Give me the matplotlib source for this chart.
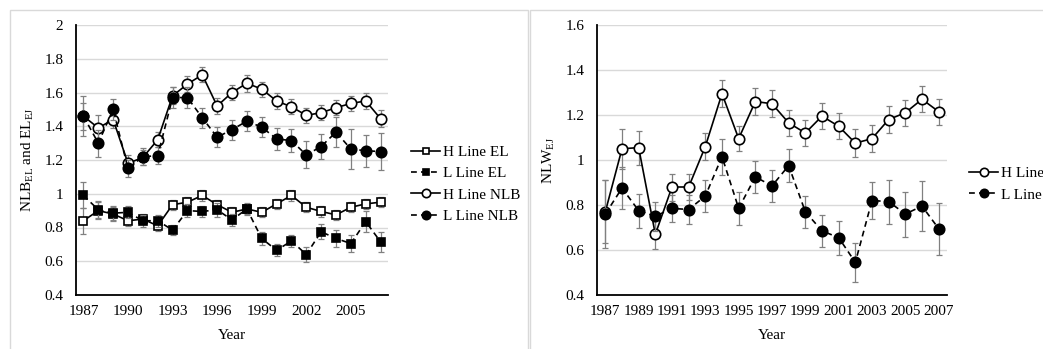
import matplotlib
matplotlib.use('Agg')
import matplotlib.pyplot as plt
from matplotlib.patches import Rectangle

plt.rcParams['font.family'] = ['Liberation Serif', 'DejaVu Serif']
plt.rcParams['mathtext.fontset'] = 'custom'
plt.rcParams['mathtext.rm'] = 'Liberation Serif'
plt.rcParams['mathtext.it'] = 'Liberation Serif:italic'

# ============= 数据 =============
years = list(range(1987, 2008))

# 左图: EL 与 NLB
h_el = [0.84, 0.90, 0.88, 0.84, 0.85, 0.81, 0.935, 0.95, 0.99, 0.935, 0.89,
        0.91, 0.89, 0.94, 0.99, 0.92, 0.895, 0.875, 0.92, 0.94, 0.95]
h_el_err = [0.077, 0.05, 0.04, 0.03, 0.03, 0.03, 0.03, 0.03, 0.03, 0.03, 0.03,
            0.03, 0.03, 0.03, 0.03, 0.03, 0.03, 0.03, 0.03, 0.03, 0.03]
l_el = [0.99, 0.905, 0.885, 0.89, 0.84, 0.84, 0.785, 0.90, 0.895, 0.905, 0.845,
        0.91, 0.735, 0.665, 0.72, 0.64, 0.775, 0.735, 0.705, 0.835, 0.715]
l_el_err = [0.077, 0.05, 0.04, 0.035, 0.035, 0.035, 0.03, 0.04, 0.035, 0.04, 0.035,
            0.035, 0.04, 0.035, 0.035, 0.045, 0.045, 0.05, 0.05, 0.06, 0.06]
h_nlb = [1.46, 1.39, 1.44, 1.18, 1.215, 1.32, 1.58, 1.65, 1.705, 1.52, 1.60,
         1.655, 1.62, 1.55, 1.515, 1.465, 1.48, 1.51, 1.535, 1.55, 1.445]
h_nlb_err = [0.08, 0.075, 0.05, 0.05, 0.045, 0.045, 0.05, 0.045, 0.045, 0.045, 0.045,
             0.05, 0.045, 0.045, 0.045, 0.045, 0.045, 0.045, 0.045, 0.045, 0.05]
l_nlb = [1.46, 1.30, 1.50, 1.15, 1.22, 1.225, 1.57, 1.57, 1.45, 1.335, 1.38,
         1.43, 1.395, 1.325, 1.315, 1.23, 1.28, 1.365, 1.265, 1.255, 1.25]
l_nlb_err = [0.12, 0.08, 0.06, 0.05, 0.05, 0.05, 0.06, 0.06, 0.06, 0.06, 0.06,
             0.06, 0.06, 0.065, 0.07, 0.08, 0.075, 0.09, 0.12, 0.095, 0.11]

# 右图: NLW
h_nlw = [0.77, 1.05, 1.055, 0.67, 0.88, 0.88, 1.06, 1.295, 1.095, 1.26, 1.25,
         1.165, 1.12, 1.195, 1.15, 1.075, 1.095, 1.18, 1.21, 1.27, 1.215]
h_nlw_err = [0.14, 0.09, 0.075, 0.065, 0.06, 0.058, 0.06, 0.06, 0.057, 0.058, 0.06,
             0.058, 0.058, 0.058, 0.058, 0.061, 0.059, 0.06, 0.058, 0.058, 0.058]
l_nlw = [0.76, 0.875, 0.775, 0.75, 0.785, 0.78, 0.84, 1.015, 0.785, 0.925, 0.885,
         0.975, 0.77, 0.685, 0.655, 0.545, 0.82, 0.815, 0.76, 0.795, 0.695]
l_nlw_err = [0.15, 0.094, 0.075, 0.065, 0.06, 0.065, 0.07, 0.08, 0.075, 0.072, 0.07,
             0.073, 0.07, 0.071, 0.075, 0.085, 0.083, 0.098, 0.1, 0.11, 0.115]

W, H = 1043, 349
FS = 11
fig = plt.figure(figsize=(W / 100, H / 100), dpi=100)

# 图表外框 (Excel 风格浅灰边框)
for x0, x1 in [(10, 528), (530, 1060)]:
    fig.patches.append(Rectangle((x0 / W, -0.1), (x1 - x0) / W, (H - 10) / H + 0.1,
                                 transform=fig.transFigure, fill=False,
                                 edgecolor='#d9d9d9', linewidth=1))


def fig_box(x0, y0, x1, y1):
    return [x0 / W, (H - y1) / H, (x1 - x0) / W, (y1 - y0) / H]


def style_axes(ax, ylim, step, tick_every, ylabel):
    xs = range(len(years))
    ax.set_xlim(-0.5, len(years) - 0.5)
    ax.set_ylim(*ylim)
    yt = []
    v = ylim[0]
    while v <= ylim[1] + 1e-9:
        yt.append(round(v, 1))
        v += step
    ax.set_yticks(yt)
    ax.set_yticklabels([f'{t:g}' for t in yt])
    ticks = list(xs)[::tick_every]
    ax.set_xticks(ticks)
    ax.set_xticklabels([str(years[i]) for i in ticks])
    ax.tick_params(length=0, labelsize=FS)
    ax.tick_params(axis='y', pad=9)
    ax.tick_params(axis='x', pad=7)
    ax.grid(True, axis='y', color='#d9d9d9', linewidth=1)
    ax.set_axisbelow(True)
    for s in ['top', 'right']:
        ax.spines[s].set_visible(False)
    for s in ['left', 'bottom']:
        ax.spines[s].set_linewidth(1.3)
        ax.spines[s].set_color('black')
    ax.set_xlabel('Year', fontsize=FS, labelpad=8)
    ax.set_ylabel(ylabel, fontsize=FS, labelpad=6)


def draw_series(ax, y, err, marker, filled, dashed, ms, label, z):
    xs = list(range(len(years)))
    ax.errorbar(xs, y, yerr=err, fmt='none', ecolor='#808080', elinewidth=0.9,
                capsize=2.4, capthick=0.9, zorder=z)
    ax.plot(xs, y, color='black', linewidth=1.2,
            linestyle=(0, (3.5, 2.5)) if dashed else '-',
            marker=marker, markersize=ms, markeredgewidth=1.2,
            markeredgecolor='black',
            markerfacecolor='black' if filled else 'white',
            label=label, zorder=z + 1)


def add_legend(ax, x_px):
    leg = ax.legend(loc='center left', bbox_to_anchor=(x_px / W, (H - 184) / H),
                    bbox_transform=fig.transFigure, frameon=False, fontsize=FS,
                    handlelength=1.9, handletextpad=0.2, labelspacing=0.5,
                    borderpad=0, borderaxespad=0, markerscale=0.8)
    return leg


# ============= 左图 =============
ax1 = fig.add_axes(fig_box(76, 25, 388, 295))
draw_series(ax1, h_el, h_el_err, 's', False, False, 5.5, 'H Line EL', 2)
draw_series(ax1, l_el, l_el_err, 's', True, True, 5.5, 'L Line EL', 4)
draw_series(ax1, h_nlb, h_nlb_err, 'o', False, False, 7.5, 'H Line NLB', 6)
draw_series(ax1, l_nlb, l_nlb_err, 'o', True, True, 7.5, 'L Line NLB', 8)
style_axes(ax1, (0.4, 2.0), 0.2, 3, r'NLB$_{\mathrm{EL}}$ and EL$_{\mathrm{EJ}}$')
add_legend(ax1, 411)

# ============= 右图 =============
ax2 = fig.add_axes(fig_box(597, 25, 947, 295))
draw_series(ax2, h_nlw, h_nlw_err, 'o', False, False, 7.5, 'H Line', 2)
draw_series(ax2, l_nlw, l_nlw_err, 'o', True, True, 7.5, 'L Line', 4)
style_axes(ax2, (0.4, 1.6), 0.2, 2, r'NLW$_{\mathrm{EJ}}$')
add_legend(ax2, 969)

fig.savefig('out.png', dpi=100, facecolor='white')
